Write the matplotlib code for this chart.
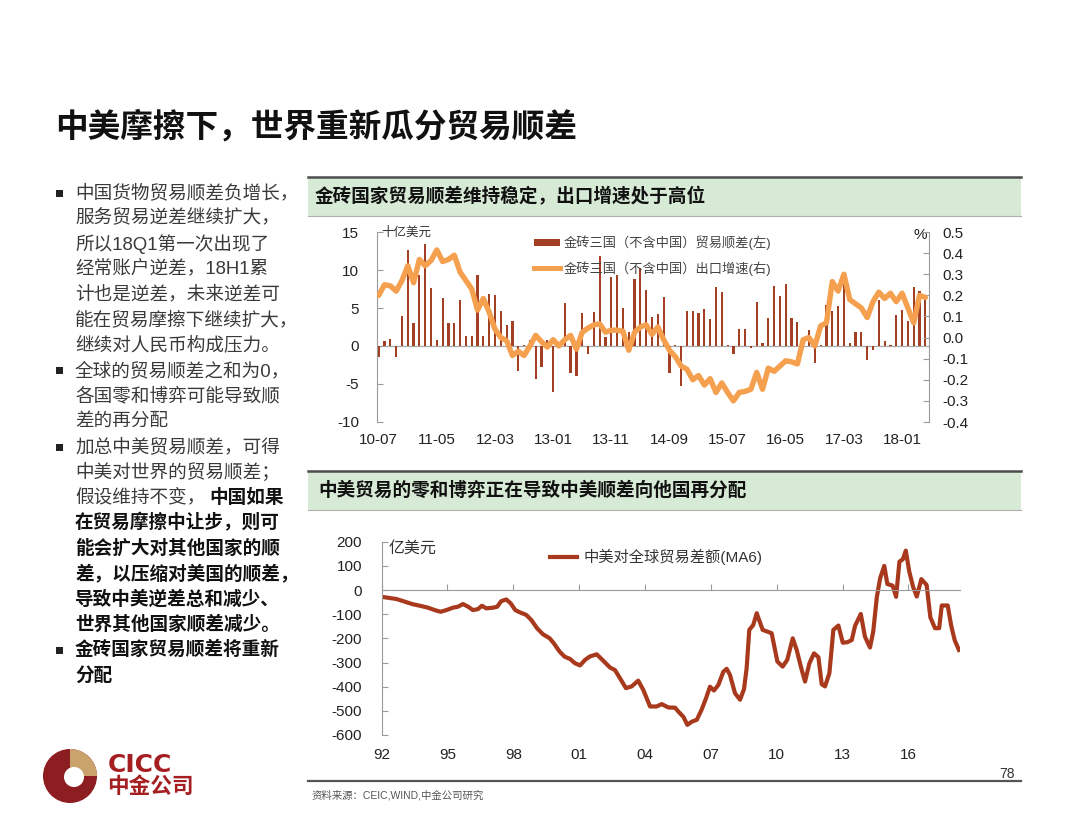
import matplotlib
matplotlib.use('Agg')
import matplotlib.pyplot as plt
import pandas as pd
from matplotlib.patches import Rectangle, Circle, Wedge, Patch
from matplotlib.lines import Line2D
from matplotlib.ticker import FuncFormatter

plt.rcParams['font.family'] = ['Liberation Sans', 'Noto Sans CJK SC', 'DejaVu Sans']
plt.rcParams['axes.unicode_minus'] = False

# ---- top chart: BRICS ex-China, monthly 2010-07 .. 2018-05 ----
brics_start = '2010-07'
brics_surplus = [-1.5, 0.6, 0.9, -1.4, 3.9, 12.6, 3.0, 9.4, 13.4, 7.6,
                 0.8, 6.3, 3.0, 3.0, 6.0, 1.3, 1.3, 9.3, 1.3, 6.9,
                 6.7, 4.6, 2.8, 3.3, -3.3, 0.1, 0.8, -4.4, -2.7, 0.8,
                 -6.1, 0.1, 5.7, -3.6, -3.9, 4.3, -1.1, 4.5, 11.8, 1.2,
                 9.1, 9.3, 5.0, 1.8, 8.8, 10.2, 7.4, 3.8, 4.2, 6.5,
                 -3.5, 0.1, -5.2, 4.6, 4.6, 4.3, 4.9, 3.6, 7.7, 7.1,
                 0.1, -1.0, 2.2, 2.2, -0.2, 5.8, 0.4, 3.7, 7.9, 6.6,
                 8.1, 3.7, 3.2, 0.2, 2.1, -2.2, 0.1, 5.4, 4.6, 5.3,
                 8.5, 0.4, 1.8, 1.8, -1.9, -0.5, 6.0, 0.6, 0.1, 4.1,
                 4.8, 3.3, 7.8, 7.2, 6.3]
brics_export_growth = [0.20, 0.25, 0.245, 0.22, 0.27, 0.34, 0.26, 0.37, 0.34, 0.365,
                       0.415, 0.36, 0.37, 0.39, 0.31, 0.27, 0.23, 0.13, 0.185, 0.12,
                       0.04, 0.0, -0.015, -0.085, -0.065, -0.085, -0.04, 0.01, -0.02, -0.045,
                       -0.01, -0.04, -0.01, 0.01, -0.055, 0.025, 0.045, 0.06, 0.065, 0.025,
                       0.035, 0.035, 0.03, -0.06, 0.025, 0.05, 0.06, 0.015, 0.05, -0.01,
                       -0.06, -0.09, -0.135, -0.15, -0.2, -0.18, -0.225, -0.195, -0.26, -0.215,
                       -0.26, -0.30, -0.26, -0.255, -0.245, -0.165, -0.245, -0.145, -0.16, -0.135,
                       -0.11, -0.115, -0.125, -0.01, 0.0, -0.04, 0.055, 0.07, 0.265, 0.22,
                       0.30, 0.18, 0.16, 0.14, 0.095, 0.17, 0.215, 0.185, 0.21, 0.17,
                       0.21, 0.14, 0.07, 0.20, 0.19]
brics_tick_labels = ['10-07', '11-05', '12-03', '13-01', '13-11',
                     '14-09', '15-07', '16-05', '17-03', '18-01']

# ---- bottom chart: China + US balance vs world (MA6), 100m USD ----
ma6_year = [1992.00, 1992.29, 1992.67, 1993.05, 1993.43, 1993.74, 1994.11, 1994.42, 1994.69, 1994.95,
            1995.25, 1995.48, 1995.71, 1995.94, 1996.16, 1996.39, 1996.57, 1996.77, 1997.08, 1997.27,
            1997.45, 1997.68, 1997.88, 1998.09, 1998.29, 1998.59, 1998.82, 1999.09, 1999.35, 1999.66,
            1999.85, 2000.11, 2000.34, 2000.58, 2000.81, 2001.04, 2001.27, 2001.49, 2001.80, 2002.10,
            2002.41, 2002.63, 2002.86, 2003.13, 2003.39, 2003.69, 2003.92, 2004.23, 2004.53, 2004.76,
            2005.06, 2005.37, 2005.52, 2005.75, 2005.93, 2006.13, 2006.36, 2006.58, 2006.78, 2006.96,
            2007.14, 2007.34, 2007.57, 2007.72, 2007.87, 2008.10, 2008.33, 2008.51, 2008.63, 2008.75,
            2008.93, 2009.09, 2009.36, 2009.57, 2009.77, 2010.03, 2010.27, 2010.48, 2010.73, 2010.91,
            2011.14, 2011.29, 2011.49, 2011.70, 2011.90, 2012.05, 2012.20, 2012.40, 2012.58, 2012.81,
            2013.01, 2013.22, 2013.42, 2013.57, 2013.83, 2014.02, 2014.25, 2014.40, 2014.56, 2014.71,
            2014.90, 2015.04, 2015.28, 2015.44, 2015.59, 2015.75, 2015.88, 2016.04, 2016.21, 2016.38,
            2016.59, 2016.83, 2017.00, 2017.21, 2017.40, 2017.52, 2017.79, 2017.95, 2018.11, 2018.30]
ma6_value = [-28, -32, -37, -48, -59, -65, -73, -83, -90, -83,
             -73, -69, -58, -69, -83, -79, -65, -76, -73, -69,
             -46, -39, -55, -83, -92, -103, -124, -159, -183, -200,
             -221, -255, -276, -285, -303, -312, -289, -275, -266, -293,
             -321, -331, -365, -406, -399, -375, -413, -482, -482, -472,
             -486, -487, -503, -525, -558, -545, -537, -495, -448, -400,
             -416, -393, -338, -326, -351, -427, -454, -410, -324, -165,
             -145, -96, -165, -172, -179, -296, -317, -289, -200, -248,
             -331, -379, -303, -262, -278, -390, -399, -344, -165, -147,
             -218, -216, -207, -148, -99, -193, -238, -170, -30, 48,
             100, 25, 18, -28, 117, 128, 163, 76, 14, -27,
             45, 21, -113, -158, -158, -64, -64, -148, -208, -248]
ma6_tick_years = [1992, 1995, 1998, 2001, 2004, 2007, 2010, 2013, 2016]
ma6_tick_labels = ['92', '95', '98', '01', '04', '07', '10', '13', '16']

# ---- slide text ----
slide_title = '中美摩擦下，世界重新瓜分贸易顺差'
header_top = '金砖国家贸易顺差维持稳定，出口增速处于高位'
header_bottom = '中美贸易的零和博弈正在导致中美顺差向他国再分配'
legend_bar = '金砖三国（不含中国）贸易顺差(左)'
legend_line = '金砖三国（不含中国）出口增速(右)'
legend_ma6 = '中美对全球贸易差额(MA6)'
source_note = '资料来源：CEIC,WIND,中金公司研究'
# (bullet?, [(text, bold), ...])
bullet_lines = [
    (True, [('中国货物贸易顺差负增长，', False)]),
    (False, [('服务贸易逆差继续扩大，', False)]),
    (False, [('所以18Q1第一次出现了', False)]),
    (False, [('经常账户逆差，18H1累', False)]),
    (False, [('计也是逆差，未来逆差可', False)]),
    (False, [('能在贸易摩擦下继续扩大，', False)]),
    (False, [('继续对人民币构成压力。', False)]),
    (True, [('全球的贸易顺差之和为0，', False)]),
    (False, [('各国零和博弈可能导致顺', False)]),
    (False, [('差的再分配', False)]),
    (True, [('加总中美贸易顺差，可得', False)]),
    (False, [('中美对世界的贸易顺差；', False)]),
    (False, [('假设维持不变，', False), ('中国如果', True)]),
    (False, [('在贸易摩擦中让步，则可', True)]),
    (False, [('能会扩大对其他国家的顺', True)]),
    (False, [('差，以压缩对美国的顺差，', True)]),
    (False, [('导致中美逆差总和减少、', True)]),
    (False, [('世界其他国家顺差减少。', True)]),
    (True, [('金砖国家贸易顺差将重新', True)]),
    (False, [('分配', True)]),
]

BAR_RED = '#A33F22'
ORANGE = '#F4A04E'
LINE_RED = '#A8391C'
AXIS_GRAY = '#9a9a9a'
BAND_GREEN = '#D7EAD5'
TEXT_DARK = '#222222'

fig = plt.figure(figsize=(10.8, 8.34), dpi=100)

# background layer in pixel coordinates
bg = fig.add_axes([0, 0, 1, 1])
bg.set_xlim(0, 1080)
bg.set_ylim(834, 0)
bg.axis('off')

bg.text(55, 127, slide_title, fontsize=23.5, fontweight='bold', color='#111111',
        ha='left', va='center')

# header bands
for (y0, y1, txt, tx) in [(177, 216, header_top, 315), (471, 510, header_bottom, 318)]:
    bg.add_patch(Rectangle((308, y0), 712.7, y1 - y0, facecolor=BAND_GREEN, edgecolor='none'))
    bg.plot([308, 1020.7], [y0, y0], color='#4d4d4d', lw=1.8)
    bg.plot([308, 1020.7], [y1, y1], color='#b0b0b0', lw=0.8)
    bg.text(tx, (y0 + y1) / 2 + 0.5, txt, fontsize=13.4, fontweight='bold',
            color='#111111', ha='left', va='center')

# bullet text
for i, (bullet, segs) in enumerate(bullet_lines):
    y = 193 + i * 25.4
    if bullet:
        bg.add_patch(Rectangle((56, y - 3.5), 7, 7, facecolor=TEXT_DARK, edgecolor='none'))
    x = 75
    for txt, bold in segs:
        if bold:
            bg.text(x + 4 if x > 75 else x, y, txt, fontsize=13.4, fontweight='bold',
                    color='#111111', ha='left', va='center')
        else:
            bg.text(x, y, txt, fontsize=13.4, color='#3a3a3a', ha='left', va='center')
        x += len(txt) * 18.6

# footer
bg.plot([308, 1020.7], [781, 781], color='#555555', lw=1.6)
bg.text(312, 795, source_note, fontsize=7.5, color='#555555', ha='left', va='center')
bg.text(1015, 774, '78', fontsize=10, color='#333333', ha='right', va='center')

# logo
bg.add_patch(Circle((70, 776), 27, facecolor='#8C1D20', edgecolor='none'))
bg.add_patch(Wedge((70, 776), 27, 270, 360, facecolor='#C9A26C', edgecolor='none'))
bg.add_patch(Circle((74, 777), 10, facecolor='white', edgecolor='none'))
bg.text(108, 765, 'CICC', fontsize=18, fontweight='bold', color='#A51E22',
        family='DejaVu Sans', ha='left', va='center')
bg.text(107, 787, '中金公司', fontsize=15.6, fontweight='bold', color='#A51E22',
        ha='left', va='center')

# ---- top chart ----
months = pd.period_range(brics_start, periods=len(brics_surplus), freq='M')
month_labels = [m.strftime('%y-%m') for m in months]
xpos = list(range(len(brics_surplus)))

ax1 = fig.add_axes([377 / 1080, 1 - 422 / 834, 551.7 / 1080, 190 / 834])
ax1.patch.set_alpha(0)
ax1.bar(xpos, brics_surplus, width=0.38, color=BAR_RED, zorder=2)
ax1.axhline(0, color='#a8a8a8', lw=0.9, zorder=1)
ax1.set_xlim(-0.29, len(brics_surplus) - 0.42)
ax1.set_ylim(-10, 15)
ax1.set_yticks(range(-10, 16, 5))
tick_pos = [month_labels.index(t) for t in brics_tick_labels]
ax1.set_xticks(tick_pos)
ax1.set_xticklabels(brics_tick_labels)
for s in ['top', 'right', 'bottom']:
    ax1.spines[s].set_visible(False)
ax1.spines['left'].set_color(AXIS_GRAY)
ax1.tick_params(axis='y', direction='in', length=4, width=0.8, color=AXIS_GRAY,
                labelsize=11, pad=13, labelcolor=TEXT_DARK)
ax1.tick_params(axis='x', length=0, labelsize=11, pad=8, labelcolor=TEXT_DARK)

ax1b = ax1.twinx()
ax1b.plot(xpos, brics_export_growth, color=ORANGE, lw=3.9,
          solid_capstyle='round', solid_joinstyle='round', zorder=3)
ax1b.set_ylim(-0.4, 0.5)
ax1b.set_yticks([-0.4, -0.3, -0.2, -0.1, 0.0, 0.1, 0.2, 0.3, 0.4, 0.5])
ax1b.yaxis.set_major_formatter(FuncFormatter(lambda v, p: f'{v:.1f}'.replace('-0.0', '0.0')))
for s in ['top', 'left', 'bottom']:
    ax1b.spines[s].set_visible(False)
ax1b.spines['right'].set_color(AXIS_GRAY)
ax1b.tick_params(axis='y', direction='in', length=4, width=0.8, color=AXIS_GRAY,
                 labelsize=11, pad=10, labelcolor=TEXT_DARK)

bg.text(381, 233, '十亿美元', fontsize=9, color='#333333', ha='left', va='center')
bg.text(927, 235, '%', fontsize=11, color=TEXT_DARK, ha='right', va='center')

leg1 = ax1b.legend([Patch(facecolor=BAR_RED), Line2D([], [], color=ORANGE, lw=3.6)],
                   [legend_bar, legend_line], loc='upper left',
                   bbox_to_anchor=((527 - 377) / 551.7, (422 - 229) / 190),
                   frameon=False, fontsize=9.5, borderpad=0, handlelength=2.0,
                   handleheight=0.5, handletextpad=0.25, labelspacing=0.8)
for t in leg1.get_texts():
    t.set_color('#444444')

# ---- bottom chart ----
ax2 = fig.add_axes([381.6 / 1080, 1 - 735 / 834, 578.4 / 1080, 193.3 / 834])
ax2.patch.set_alpha(0)
ax2.plot(ma6_year, ma6_value, color=LINE_RED, lw=3.0, solid_joinstyle='round')
ax2.set_xlim(1992, 2018.35)
ax2.set_ylim(-600, 200)
ax2.set_yticks(range(-600, 201, 100))
ax2.set_xticks(ma6_tick_years)
ax2.spines['bottom'].set_position(('data', 0))
for s in ['top', 'right']:
    ax2.spines[s].set_visible(False)
ax2.spines['left'].set_color(AXIS_GRAY)
ax2.spines['bottom'].set_color(AXIS_GRAY)
ax2.tick_params(axis='y', direction='in', length=4, width=0.8, color=AXIS_GRAY,
                labelsize=11, pad=14, labelcolor=TEXT_DARK)
ax2.tick_params(axis='x', direction='in', length=4, width=0.8, color=AXIS_GRAY,
                labelbottom=False)
for yr, lab in zip(ma6_tick_years, ma6_tick_labels):
    ax2.annotate(lab, (yr, -600), xytext=(0, -14.5), textcoords='offset points',
                 ha='center', va='center', fontsize=11, color=TEXT_DARK,
                 annotation_clip=False)

bg.text(389, 548, '亿美元', fontsize=11.5, color='#333333', ha='left', va='center')
leg2 = ax2.legend([Line2D([], [], color=LINE_RED, lw=3)], [legend_ma6], loc='upper left',
                  bbox_to_anchor=((542.7 - 381.6) / 578.4, 1.003), frameon=False,
                  fontsize=11, borderpad=0, handlelength=1.75, handletextpad=0.45)
for t in leg2.get_texts():
    t.set_color('#333333')

fig.savefig('out.png', dpi=100)
